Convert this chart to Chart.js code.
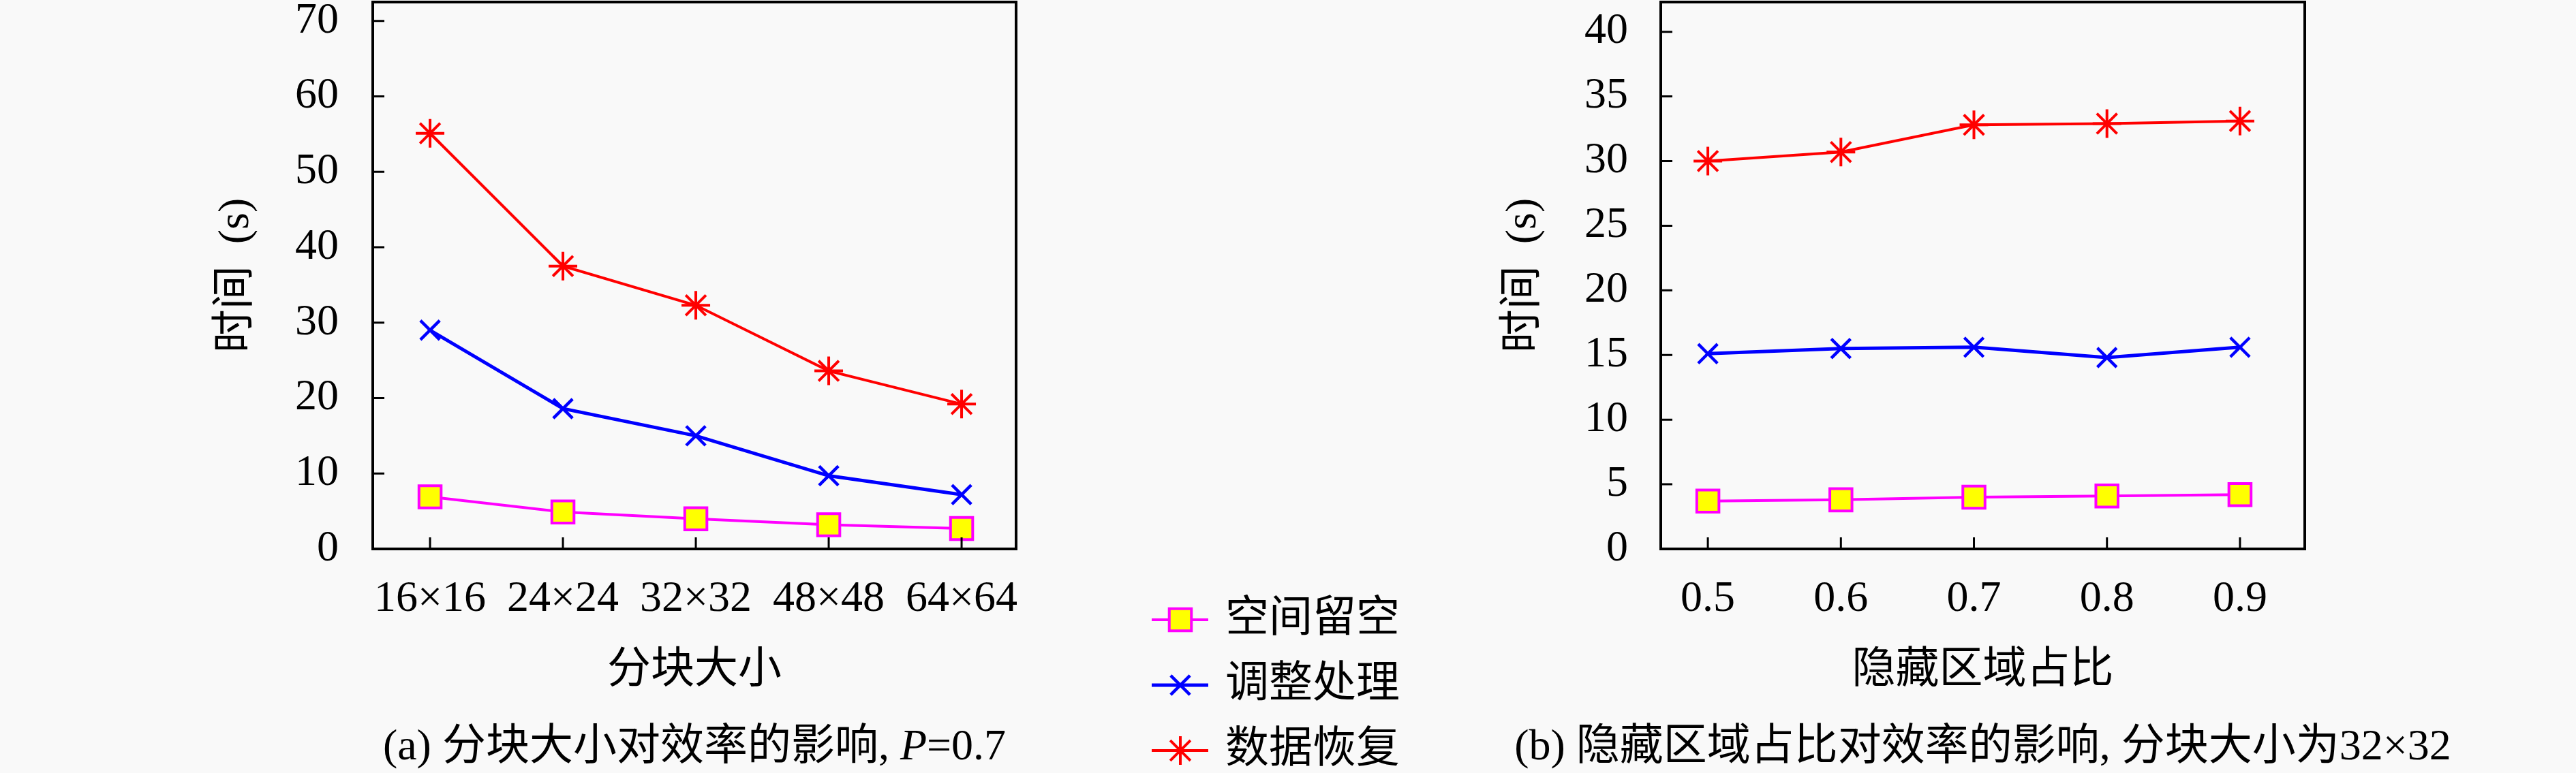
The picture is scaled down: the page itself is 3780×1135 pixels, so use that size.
<!DOCTYPE html>
<html>
<head>
<meta charset="utf-8">
<script src="https://cdn.jsdelivr.net/npm/chart.js@4.4.1/dist/chart.umd.min.js"></script>
<style>
  html, body { margin: 0; padding: 0; background: #f9f9f9; overflow: hidden; }
  #graficoA { position: absolute; left: 0; top: 0; }
  #graficoB { position: absolute; left: 2100px; top: 0; }
</style>
</head>
<body>
<canvas id="graficoA" width="2100" height="1135"></canvas>
<canvas id="graficoB" width="1680" height="1135"></canvas>
<script>
// dados dos dois gráficos
const blockSizes = ['16×16', '24×24', '32×32', '48×48', '64×64'];
const hiddenRatios = [0.5, 0.6, 0.7, 0.8, 0.9];
const seriesNames = ['空间留空', '调整处理', '数据恢复'];

const reserveA = [6.9, 4.9, 4.0, 3.2, 2.7];
const adjustA = [29.0, 18.6, 15.0, 9.7, 7.2];
const recoverA = [55.1, 37.5, 32.3, 23.6, 19.2];

const reserveB = [3.7, 3.8, 4.0, 4.1, 4.2];
const adjustB = [15.1, 15.5, 15.6, 14.8, 15.6];
const recoverB = [30.0, 30.7, 32.8, 32.9, 33.1];

const yTicksA = [0, 10, 20, 30, 40, 50, 60, 70];
const yTicksB = [0, 5, 10, 15, 20, 25, 30, 35, 40];

const yTitle = '时间\u2002(s)';
const xTitleA = '分块大小';
const xTitleB = '隐藏区域占比';
const captionA = [['(a) 分块大小对效率的影响, ', false], ['P', true], ['=0.7', false]];
const captionB = [['(b) 隐藏区域占比对效率的影响, 分块大小为32×32', false]];

// estilos
const family = '"Liberation Serif", "Noto Sans CJK SC", serif';
const fonte = { family: family, size: 64, lineHeight: 1 };
const estilos = [
  { color: '#ff00ff', fill: '#ffff00', point: 'rect', radius: 23, width: 4, line: 4 },
  { color: '#0000ff', fill: '#0000ff', point: 'crossRot', radius: 20, width: 4.5, line: 5 },
  { color: '#ff0000', fill: '#ff0000', point: 'star', radius: 21, width: 4, line: 4 }
];

function makeDatasets(xs, series) {
  return series.map((vals, i) => ({
    label: seriesNames[i],
    data: vals.map((v, j) => ({ x: xs[j], y: v })),
    borderColor: estilos[i].color,
    backgroundColor: estilos[i].fill,
    borderWidth: estilos[i].line,
    pointStyle: estilos[i].point,
    pointRadius: estilos[i].radius,
    pointBorderWidth: estilos[i].width,
    pointBorderColor: estilos[i].color,
    pointBackgroundColor: estilos[i].fill,
    tension: 0
  }));
}

function makeScales(cfg) {
  return {
    x: {
      type: 'linear', min: cfg.xMin, max: cfg.xMax,
      grid: { display: false, drawTicks: false }, border: { display: false },
      afterBuildTicks: s => { s.ticks = cfg.xTicks.map(v => ({ value: v })); },
      ticks: { padding: 42, font: fonte, color: '#000', autoSkip: false, maxRotation: 0, minRotation: 0, callback: cfg.xLabel },
      title: { display: true, text: cfg.xTitle, font: fonte, color: '#000', padding: { top: 0, bottom: 19 } },
      afterFit: s => { s.height = 230; s.paddingLeft = 0; s.paddingRight = 0; }
    },
    y: {
      min: 0, max: cfg.yMax,
      grid: { display: false, drawTicks: false }, border: { display: false },
      afterBuildTicks: s => { s.ticks = cfg.yTicks.map(v => ({ value: v })); },
      ticks: { padding: cfg.yPad, font: fonte, color: '#000' },
      title: { display: true, text: yTitle, font: fonte, color: '#000', padding: { top: cfg.titlePad, bottom: 0 } },
      afterFit: s => { s.width = cfg.yWidth; s.paddingTop = 0; s.paddingBottom = 0; }
    }
  };
}

// caixa do gráfico, ticks para dentro e legenda da figura
const caixaPlugin = {
  id: 'caixa',
  afterDraw(chart, args, opts) {
    const ctx = chart.ctx;
    const a = chart.chartArea;
    const sx = chart.scales.x, sy = chart.scales.y;
    ctx.save();
    ctx.strokeStyle = '#000';
    ctx.lineWidth = 3;
    ctx.beginPath();
    sy.ticks.forEach(t => {
      const y = sy.getPixelForValue(t.value);
      ctx.moveTo(a.left, y); ctx.lineTo(a.left + 17, y);
    });
    sx.ticks.forEach(t => {
      const x = sx.getPixelForValue(t.value);
      ctx.moveTo(x, a.bottom); ctx.lineTo(x, a.bottom - 17);
    });
    ctx.stroke();
    ctx.lineWidth = 4;
    ctx.strokeRect(a.left, a.top, a.right - a.left, a.bottom - a.top);

    // legenda abaixo do gráfico
    ctx.fillStyle = '#000';
    ctx.textBaseline = 'middle';
    let total = 0;
    opts.caption.forEach(p => {
      ctx.font = (p[1] ? 'italic ' : '') + '64px ' + family;
      total += ctx.measureText(p[0]).width;
    });
    let cx = (a.left + a.right) / 2 - total / 2;
    ctx.textAlign = 'left';
    opts.caption.forEach(p => {
      ctx.font = (p[1] ? 'italic ' : '') + '64px ' + family;
      ctx.fillText(p[0], cx, 1098);
      cx += ctx.measureText(p[0]).width;
    });

    if (opts.legend) {
      chart.data.datasets.forEach((ds, i) => {
        const y = 910 + i * 96;
        ctx.strokeStyle = ds.borderColor;
        ctx.lineWidth = ds.borderWidth;
        ctx.beginPath();
        ctx.moveTo(1690, y); ctx.lineTo(1773, y);
        ctx.stroke();
        ctx.fillStyle = ds.pointBackgroundColor;
        ctx.strokeStyle = ds.pointBorderColor;
        ctx.lineWidth = ds.pointBorderWidth;
        Chart.helpers.drawPoint(ctx, { pointStyle: ds.pointStyle, radius: ds.pointRadius, borderWidth: ds.pointBorderWidth, rotation: 0 }, 1732, y);
        ctx.fillStyle = '#000';
        ctx.font = '64px ' + family;
        ctx.fillText(ds.label, 1798, y);
      });
    }
    ctx.restore();
  }
};

const baseOptions = {
  responsive: false,
  animation: false,
  devicePixelRatio: 1,
  events: []
};

new Chart(document.getElementById('graficoA').getContext('2d'), {
  type: 'line',
  data: { datasets: makeDatasets(blockSizes.map((_, i) => i), [reserveA, adjustA, recoverA]) },
  options: Object.assign({}, baseOptions, {
    layout: { autoPadding: false, padding: { left: 0, right: 609, top: 3, bottom: 99 } },
    scales: makeScales({
      xMin: -0.431, xMax: 4.41, xTicks: blockSizes.map((_, i) => i),
      xLabel: v => blockSizes[v], xTitle: xTitleA,
      yMax: 72.5, yTicks: yTicksA, yPad: 50, yWidth: 547, titlePad: 315
    }),
    plugins: {
      legend: { display: false }, tooltip: { enabled: false },
      caixa: { caption: captionA, legend: true }
    }
  }),
  plugins: [caixaPlugin]
});

new Chart(document.getElementById('graficoB').getContext('2d'), {
  type: 'line',
  data: { datasets: makeDatasets(hiddenRatios, [reserveB, adjustB, recoverB]) },
  options: Object.assign({}, baseOptions, {
    layout: { autoPadding: false, padding: { left: 0, right: 398, top: 3, bottom: 99 } },
    scales: makeScales({
      xMin: 0.4646, xMax: 0.9487, xTicks: hiddenRatios,
      xLabel: v => v.toFixed(1), xTitle: xTitleB,
      yMax: 42.3, yTicks: yTicksB, yPad: 48, yWidth: 337, titlePad: 104
    }),
    plugins: {
      legend: { display: false }, tooltip: { enabled: false },
      caixa: { caption: captionB, legend: false }
    }
  }),
  plugins: [caixaPlugin]
});
</script>
</body>
</html>
